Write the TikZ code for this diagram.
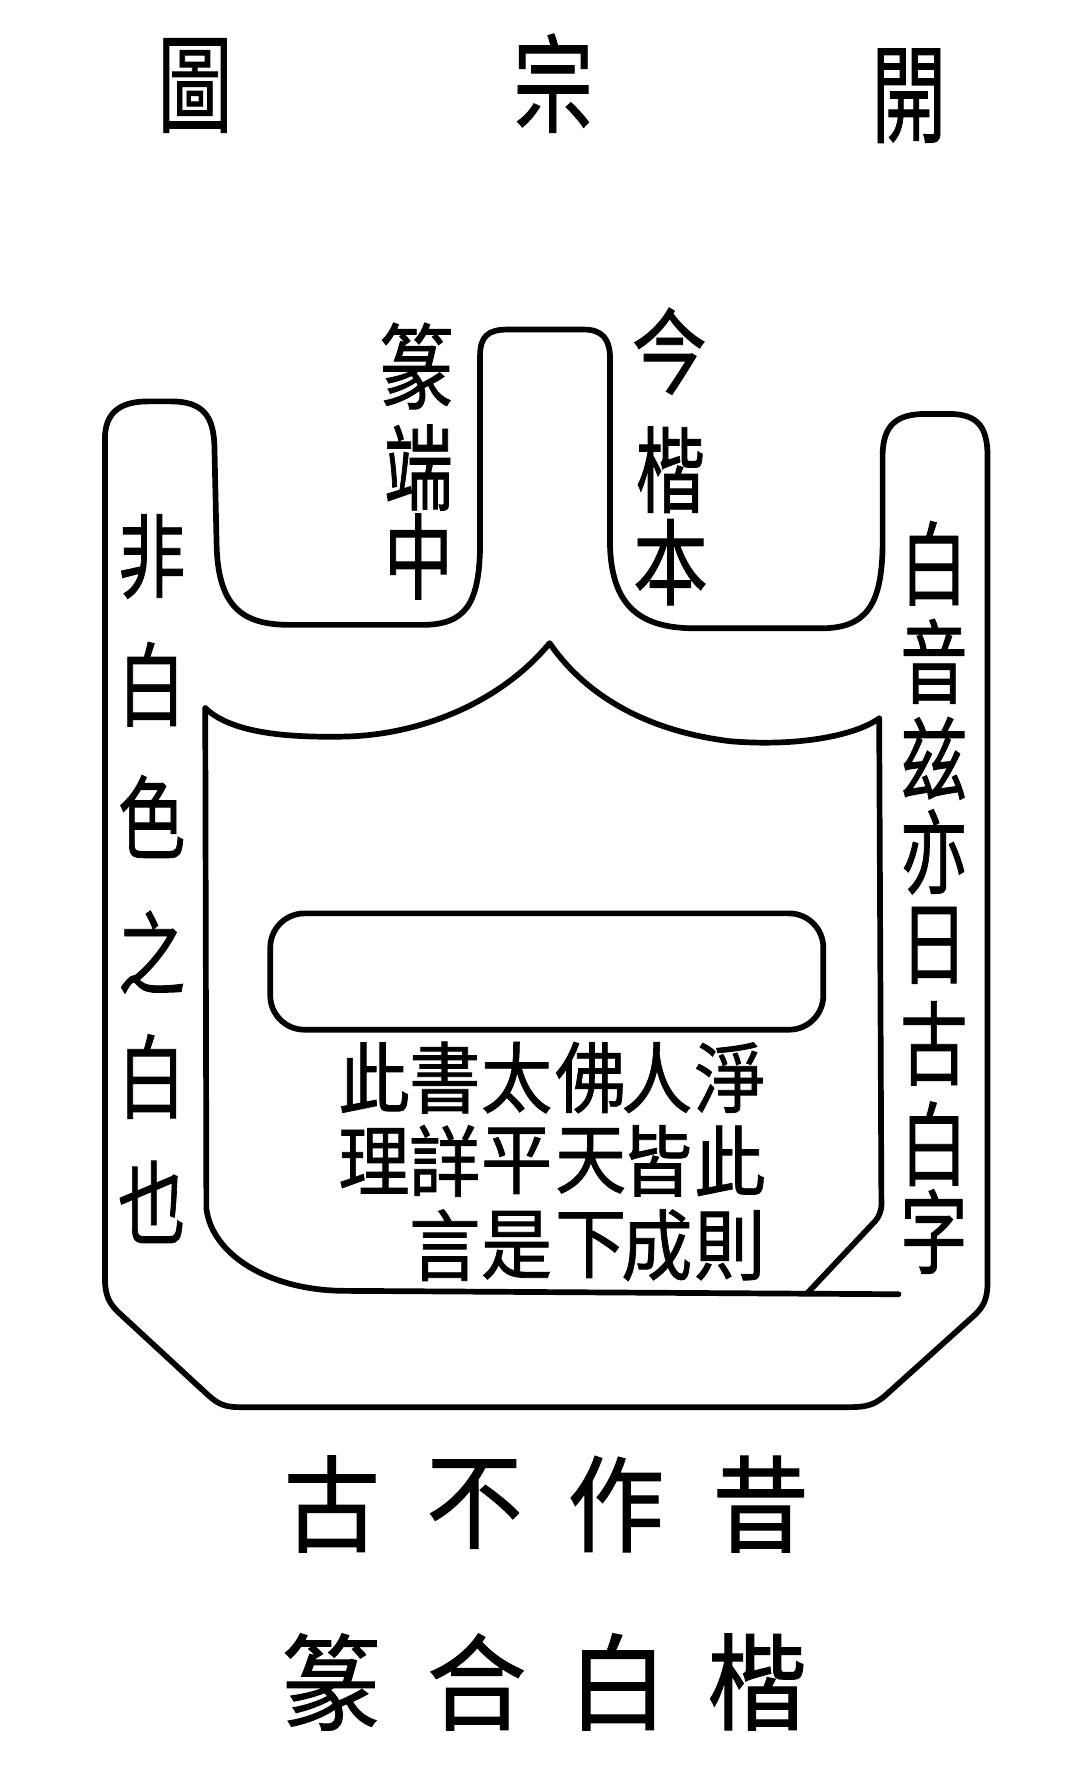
\documentclass[tikz,border=0pt]{standalone}
\usepackage{fontspec}
\usepackage{graphicx}
\newfontfamily\cjk[FakeBold=1]{Noto Sans CJK TC}
\newcommand\sqz[2]{\scalebox{#1}[1]{#2}}
\tikzset{
  outline/.style={line width=5pt, line join=round, line cap=round},
  ttl/.style={font=\cjk\fontsize{94}{94}\selectfont, inner sep=0pt},
  topcol/.style={font=\cjk\fontsize{82}{82}\selectfont, inner sep=0pt},
  sidecol/.style={font=\cjk\fontsize{80}{80}\selectfont, inner sep=0pt},
  body/.style={font=\cjk\fontsize{68}{68}\selectfont, inner sep=0pt},
  foot/.style={font=\cjk\fontsize{92}{92}\selectfont, inner sep=0pt},
}
\begin{document}
\begin{tikzpicture}[x=1pt,y=-1pt]
\useasboundingbox[fill=white] (0,0) rectangle (944,1568);

% title
\node[ttl] (t1) at (171,75) {\sqz{0.7}{圖}};
\node[ttl] (t2) at (485,73) {\sqz{0.75}{宗}};
\node[ttl] (t3) at (797,84) {\sqz{0.7}{開}};

% outer outline
\draw[outline] (92,1100) -- (92,385)
  .. controls (92,362) and (105,352) .. (130,352) -- (150,352)
  .. controls (178,352) and (187,365) .. (188,390) -- (190,480)
  .. controls (192,535) and (215,548) .. (255,548) -- (370,548)
  .. controls (408,548) and (420,530) .. (421,480) -- (421,312)
  .. controls (421,295) and (428,289) .. (445,289) -- (512,289)
  .. controls (528,289) and (535,297) .. (535,315) -- (535,480)
  .. controls (537,535) and (565,551) .. (610,551) -- (720,551)
  .. controls (760,551) and (773,530) .. (774,480) -- (774,400)
  .. controls (774,372) and (787,363) .. (812,363) -- (832,363)
  .. controls (858,363) and (866,375) .. (866,400) -- (866,1125)
  .. controls (866,1140) and (862,1146) .. (855,1153) -- (775,1225)
  .. controls (766,1232) and (760,1234) .. (745,1234) -- (210,1234)
  .. controls (195,1234) and (190,1230) .. (182,1223) -- (103,1150)
  .. controls (95,1142) and (92,1135) .. (92,1120) -- cycle;

% cup rim
\draw[outline] (180,621) .. controls (200,640) and (240,647) .. (300,646)
  .. controls (370,645) and (440,615) .. (482,564)
  .. controls (510,605) and (560,640) .. (640,650)
  .. controls (700,655) and (750,645) .. (771,630);
% cup sides and base
\draw[outline] (180,621) -- (181,1060) .. controls (186,1100) and (235,1131) .. (300,1132) -- (788,1135);
\draw[outline, rounded corners=8] (771,630) -- (773,1065) -- (708,1134);

% inner rounded box
\draw[outline, rounded corners=30] (237,801) rectangle (722,903);

% top columns
\node[topcol] (a1) at (365,321) {\sqz{0.8}{篆}};
\node[topcol] (a2) at (367,410) {\sqz{0.74}{端}};
\node[topcol] (a3) at (367,488) {\sqz{0.74}{中}};
\node[topcol] (b1) at (587,308) {\sqz{0.8}{今}};
\node[topcol] (b2) at (588,412) {\sqz{0.74}{楷}};
\node[topcol] (b3) at (588,493) {\sqz{0.8}{本}};

% left column
\foreach \c/\y [count=\i] in {非/488,白/600,色/716,之/835,白/944,也/1054}
  \node[sidecol] (l\i) at (133,\y) {\sqz{0.74}{\c}};
% right column
\foreach \c/\y [count=\i] in {白/494,音/580,兹/665,亦/747,日/829,古/915,白/1003,字/1080}
  \node[sidecol] (r\i) at (819,\y) {\sqz{0.74}{\c}};

% body text
\foreach \c/\x [count=\i] in {此/328,書/390,太/453,佛/518,人/576,淨/640}
  \node[body] (p\i) at (\x,945) {\sqz{0.92}{\c}};
\foreach \c/\x [count=\i] in {理/328,詳/390,平/453,天/518,皆/576,此/640}
  \node[body] (q\i) at (\x,1018) {\sqz{0.92}{\c}};
\foreach \c/\x [count=\i] in {言/390,是/453,下/518,成/576,則/640}
  \node[body] (s\i) at (\x,1092) {\sqz{0.92}{\c}};

% footer
\foreach \c/\x [count=\i] in {古/291,不/416,作/540,昔/667}
  \node[foot] (f\i) at (\x,1319) {\sqz{0.92}{\c}};
\foreach \c/\x [count=\i] in {篆/290,合/418,白/542,楷/664}
  \node[foot] (g\i) at (\x,1475) {\sqz{0.95}{\c}};
\end{tikzpicture}
\end{document}
